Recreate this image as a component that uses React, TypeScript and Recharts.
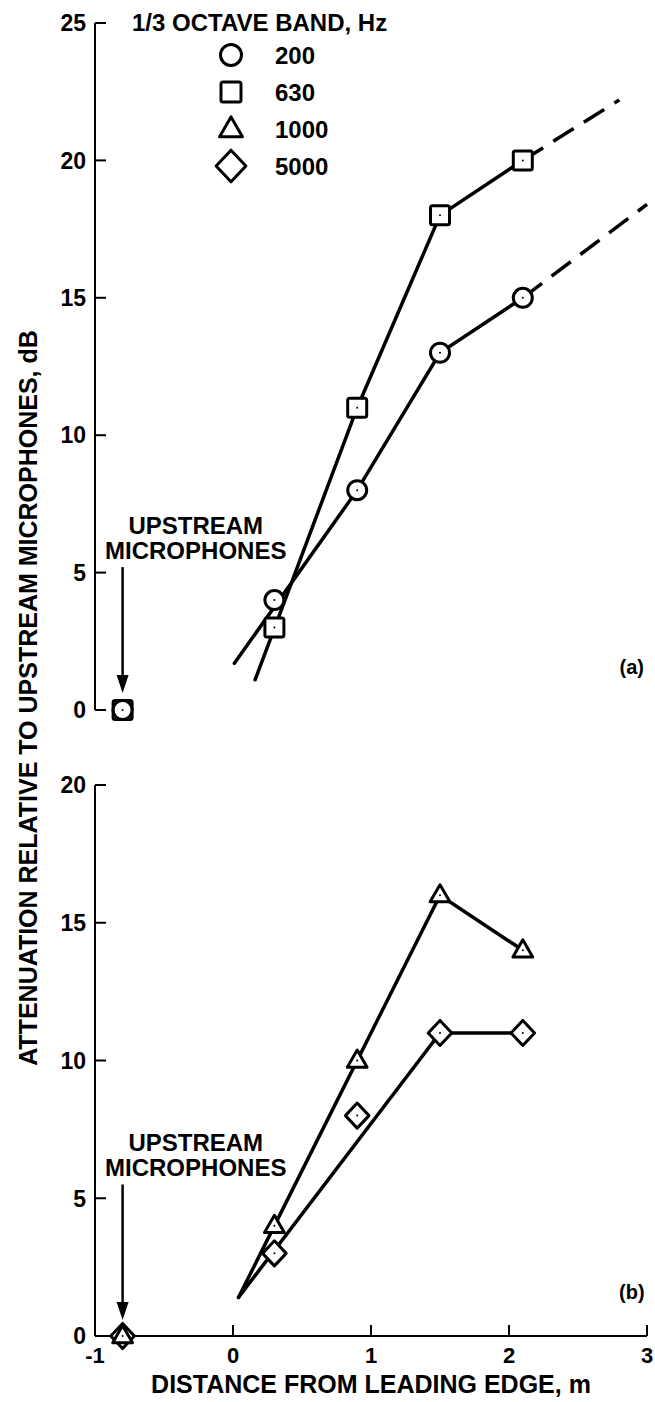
import React from 'react';
import { ComposedChart, Scatter, XAxis, YAxis, ReferenceLine, ReferenceDot } from 'recharts';

// ---------- data ----------
const xPositions = [-0.8, 0.3, 0.9, 1.5, 2.1];
const band200 = [0, 4, 8, 13, 15];
const band630 = [0, 3, 11, 18, 20];
const band1000 = [0, 4, 10, 16, 14];
const band5000 = [0, 3, 8, 11, 11];

const fit200X = [0.01, 0.9, 1.5, 2.1];
const fit200Y = [1.7, 8, 13, 15];
const ext200X = [2.1, 3.0];
const ext200Y = [15, 18.4];
const fit630X = [0.16, 0.9, 1.5, 2.1];
const fit630Y = [1.1, 11, 18, 20];
const ext630X = [2.1, 2.8];
const ext630Y = [20, 22.2];
const fit1000X = [0.04, 1.5, 2.1];
const fit1000Y = [1.4, 16, 14];
const fit5000X = [0.04, 1.5, 2.1];
const fit5000Y = [1.4, 11, 11];

const xTicks = [-1, 0, 1, 2, 3];
const yTicksA = [0, 5, 10, 15, 20, 25];
const yTicksB = [0, 5, 10, 15, 20];
const legendTitle = '1/3 OCTAVE BAND, Hz';
const legendBands = ['200', '630', '1000', '5000'];
const legendKinds = ['circle', 'square', 'triangle', 'diamond'];
const xTitle = 'DISTANCE FROM LEADING EDGE, m';
const yTitle = 'ATTENUATION RELATIVE TO UPSTREAM MICROPHONES, dB';
const noteLines = ['UPSTREAM', 'MICROPHONES'];

const zip = (xs: number[], ys: number[]) => xs.map((x, i) => ({ x, y: ys[i] }));

// ---------- styling helpers ----------
const FONT = "'Liberation Sans', Arial, Helvetica, sans-serif";
const INK = '#000';

function markerPath(kind: string, cx: number, cy: number, s: number) {
  if (kind === 'square') {
    const h = s * 0.5;
    return <rect x={cx - h} y={cy - h} width={2 * h} height={2 * h} rx={2} fill="#fff" stroke={INK} strokeWidth={3} />;
  }
  if (kind === 'triangle') {
    const w = s * 0.52;
    const hUp = s * 0.55;
    const hDn = s * 0.35;
    return <polygon points={`${cx},${cy - hUp} ${cx + w},${cy + hDn} ${cx - w},${cy + hDn}`} fill="#fff" stroke={INK} strokeWidth={3} strokeLinejoin="round" />;
  }
  if (kind === 'diamond') {
    const w = s * 0.62;
    const h = s * 0.66;
    return <polygon points={`${cx},${cy - h} ${cx + w},${cy} ${cx},${cy + h} ${cx - w},${cy}`} fill="#fff" stroke={INK} strokeWidth={3} strokeLinejoin="round" />;
  }
  return <circle cx={cx} cy={cy} r={s * 0.5} fill="#fff" stroke={INK} strokeWidth={3} />;
}

const makeShape = (kind: string, size: number) => (props: any) => {
  const { cx, cy } = props;
  if (cx == null || cy == null) return <g />;
  return (
    <g>
      {markerPath(kind, cx, cy, size)}
      <circle cx={cx} cy={cy} r={1} fill={INK} />
    </g>
  );
};

const noShape = () => <g />;

function YTick(props: any) {
  const { x, y, payload } = props;
  return (
    <g>
      <line x1={x + 9} y1={y} x2={x + 20} y2={y} stroke={INK} strokeWidth={2} />
      <text x={x} y={y} dy="0.36em" textAnchor="end" fontFamily={FONT} fontWeight="bold" fontSize={23} fill={INK}>
        {payload.value}
      </text>
    </g>
  );
}

function XTick(props: any) {
  const { x, y, payload, showLabel } = props;
  const v = payload.value;
  return (
    <g>
      {v !== -1 && <line x1={x} y1={y} x2={x} y2={y - 11} stroke={INK} strokeWidth={2} />}
      {showLabel && (
        <text x={x} y={y + 27} textAnchor="middle" fontFamily={FONT} fontWeight="bold" fontSize={22} fill={INK}>
          {v}
        </text>
      )}
    </g>
  );
}

const Arrow = (props: any) => {
  const { x1, y1, x2, y2 } = props;
  if (x1 == null) return <g />;
  return (
    <g>
      <line x1={x1} y1={y1} x2={x2} y2={y2 - 14} stroke={INK} strokeWidth={2.5} />
      <polygon points={`${x2 - 6},${y2 - 18} ${x2 + 6},${y2 - 18} ${x2},${y2}`} fill={INK} />
    </g>
  );
};

const NoteText = (line: string) => (props: any) => {
  const { cx, cy } = props;
  return (
    <text x={cx} y={cy} dy="0.36em" textAnchor="middle" fontFamily={FONT} fontWeight="bold" fontSize={24} fill={INK}>
      {line}
    </text>
  );
};

const PanelLabel = (label: string) => (props: any) => {
  const { cx, cy } = props;
  return (
    <text x={cx} y={cy} dy="0.36em" textAnchor="middle" fontFamily={FONT} fontWeight="bold" fontSize={20} fill={INK}>
      {label}
    </text>
  );
};

const axisLineStyle = { stroke: INK, strokeWidth: 2 };
const solid = { stroke: INK, strokeWidth: 3.5, strokeLinecap: 'round' as const };
const dashed = { stroke: INK, strokeWidth: 3.5, strokeDasharray: '24 12' };

function Panel(props: {
  height: number;
  margin: any;
  yMax: number;
  yTicks: number[];
  showXLabels: boolean;
  children: React.ReactNode;
}) {
  const { height, margin, yMax, yTicks, showXLabels, children } = props;
  return (
    <ComposedChart width={655} height={height} margin={margin}>
      <XAxis
        type="number"
        dataKey="x"
        domain={[-1, 3]}
        ticks={xTicks}
        interval={0}
        height={showXLabels ? 66 : 0}
        tickSize={0}
        tickMargin={0}
        tickLine={false}
        axisLine={axisLineStyle}
        tick={(p: any) => <XTick {...p} showLabel={showXLabels} />}
        label={
          showXLabels
            ? { value: xTitle, position: 'insideBottom', offset: 9, fontFamily: FONT, fontWeight: 'bold', fontSize: 25, fill: INK }
            : undefined
        }
      />
      <YAxis
        type="number"
        dataKey="y"
        domain={[0, yMax]}
        ticks={yTicks}
        interval={0}
        width={95}
        tickSize={0}
        tickMargin={9}
        tickLine={false}
        axisLine={axisLineStyle}
        tick={(p: any) => <YTick {...p} />}
      />
      {children}
    </ComposedChart>
  );
}

function Legend() {
  const rowY = [55, 92, 129, 166];
  const size = [21, 20, 22, 24];
  return (
    <svg width={655} height={190} style={{ position: 'absolute', left: 0, top: 0, pointerEvents: 'none' }}>
      <text x={132} y={31} fontFamily={FONT} fontWeight="bold" fontSize={24} fill={INK}>
        {legendTitle}
      </text>
      {legendBands.map((b, i) => (
        <g key={b}>
          {markerPath(legendKinds[i], 231, rowY[i], size[i])}
          <text x={275} y={rowY[i]} dy="0.36em" fontFamily={FONT} fontWeight="bold" fontSize={24} fill={INK}>
            {b}
          </text>
        </g>
      ))}
    </svg>
  );
}

export default function App() {
  const s200 = zip(xPositions, band200);
  const s630 = zip(xPositions, band630);
  const s1000 = zip(xPositions, band1000);
  const s5000 = zip(xPositions, band5000);

  return (
    <div style={{ position: 'absolute', left: 0, top: 0, width: 655, height: 1402, background: '#fff' }}>
      <div style={{ position: 'absolute', left: 0, top: 0 }}>
        <Panel height={725} margin={{ top: 23, right: 8, bottom: 15, left: 0 }} yMax={25} yTicks={yTicksA} showXLabels={false}>
          <Scatter data={zip(fit200X, fit200Y)} line={solid} shape={noShape} isAnimationActive={false} />
          <Scatter data={zip(ext200X, ext200Y)} line={dashed} shape={noShape} isAnimationActive={false} />
          <Scatter data={zip(fit630X, fit630Y)} line={solid} shape={noShape} isAnimationActive={false} />
          <Scatter data={zip(ext630X, ext630Y)} line={dashed} shape={noShape} isAnimationActive={false} />
          <Scatter data={s630} shape={makeShape('square', 19)} isAnimationActive={false} />
          <Scatter data={s200} shape={makeShape('circle', 19)} isAnimationActive={false} />
          <ReferenceLine segment={[{ x: -0.8, y: 5.2 }, { x: -0.8, y: 0.62 }]} shape={Arrow} />
          <ReferenceDot x={-0.27} y={6.73} r={0} shape={NoteText(noteLines[0])} />
          <ReferenceDot x={-0.27} y={5.82} r={0} shape={NoteText(noteLines[1])} />
          <ReferenceDot x={2.89} y={1.56} r={0} shape={PanelLabel('(a)')} />
        </Panel>
      </div>
      <div style={{ position: 'absolute', left: 0, top: 725 }}>
        <Panel height={677} margin={{ top: 60, right: 8, bottom: 0, left: 0 }} yMax={20} yTicks={yTicksB} showXLabels={true}>
          <Scatter data={zip(fit1000X, fit1000Y)} line={solid} shape={noShape} isAnimationActive={false} />
          <Scatter data={zip(fit5000X, fit5000Y)} line={solid} shape={noShape} isAnimationActive={false} />
          <Scatter data={s5000} shape={makeShape('diamond', 19)} isAnimationActive={false} />
          <Scatter data={s1000} shape={makeShape('triangle', 19)} isAnimationActive={false} />
          <ReferenceLine segment={[{ x: -0.8, y: 5.5 }, { x: -0.8, y: 0.58 }]} shape={Arrow} />
          <ReferenceDot x={-0.27} y={7.04} r={0} shape={NoteText(noteLines[0])} />
          <ReferenceDot x={-0.27} y={6.13} r={0} shape={NoteText(noteLines[1])} />
          <ReferenceDot x={2.89} y={1.6} r={0} shape={PanelLabel('(b)')} />
        </Panel>
      </div>
      <Legend />
      <svg width={60} height={1402} style={{ position: 'absolute', left: 0, top: 0, pointerEvents: 'none' }}>
        <text
          x={28}
          y={698}
          transform="rotate(-90 28 698)"
          textAnchor="middle"
          dy="0.36em"
          fontFamily={FONT}
          fontWeight="bold"
          fontSize={25}
          fill={INK}
        >
          {yTitle}
        </text>
      </svg>
    </div>
  );
}
